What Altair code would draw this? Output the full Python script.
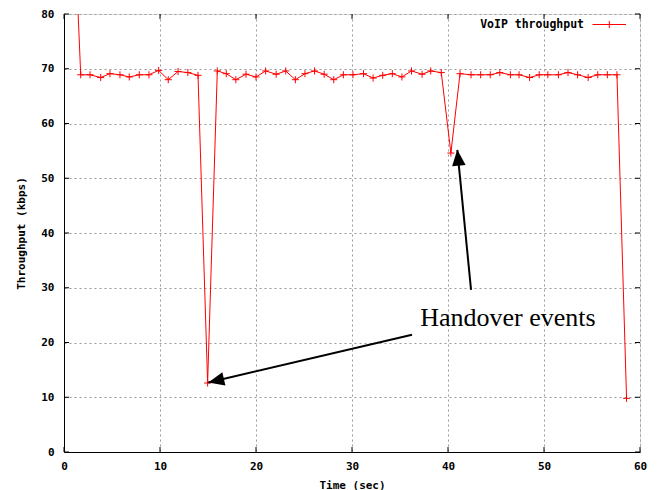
import altair as alt
import pandas as pd

# ---- data ----
time_s = [0.75, 1.74, 2.71, 3.82, 4.79, 5.83, 6.80, 7.84, 8.85, 9.86, 10.86, 11.88, 12.90, 13.96,
          14.96, 15.97, 16.9, 17.9, 18.96, 20.0, 21.0, 22.1, 23.1, 24.1, 25.1, 26.1, 27.1, 28.1,
          29.1, 30.1, 31.2, 32.2, 33.2, 34.2, 35.2, 36.2, 37.3, 38.2, 39.3, 40.3, 41.25, 42.4,
          43.4, 44.4, 45.4, 46.5, 47.4, 48.5, 49.5, 50.4, 51.5, 52.5, 53.5, 54.6, 55.6, 56.6,
          57.6, 58.6]
throughput = [110, 68.9, 68.9, 68.4, 69.1, 68.9, 68.5, 68.9, 68.9, 69.7, 68.0, 69.5, 69.3, 68.8,
              12.6, 69.6, 69.1, 68.0, 69.0, 68.5, 69.6, 69.0, 69.6, 68.0, 69.1, 69.6, 69.0, 68.0,
              68.9, 68.9, 69.1, 68.3, 68.8, 69.1, 68.5, 69.6, 69.0, 69.6, 69.3, 54.6, 69.1, 68.9,
              68.9, 68.9, 69.3, 68.9, 68.9, 68.4, 68.9, 68.9, 68.9, 69.3, 68.9, 68.4, 68.9, 68.9,
              68.9, 9.8]
x_ticks = [0, 10, 20, 30, 40, 50, 60]
y_ticks = [0, 10, 20, 30, 40, 50, 60, 70, 80]

arrow_from_x = [36.25, 42.4]
arrow_from_y = [21.4, 29.6]
arrow_tip_x = [15.03, 40.97]
arrow_tip_y = [12.7, 55.2]
arrow_angle = [256.9, 354.4]

annotation = "Handover events"
annotation_x = [37.1]
annotation_y = [23.0]
series_name = "VoIP throughput"

assert len(time_s) == len(throughput)

W, H = 576, 438
MONO = "DejaVu Sans Mono"
RED = "#ff0000"
PLUS = "M-1,0L1,0M0,-1L0,1"
HEAD = "M0,0L-0.85,2L0.85,2Z"

xs = alt.Scale(domain=[0, 60], nice=False, zero=False)
ys = alt.Scale(domain=[0, 80], nice=False, zero=False)
XT = "Time (sec)"
YT = "Throughput (kbps)"

df = pd.DataFrame({"t": time_s, "v": throughput})

x_axis = alt.Axis(values=x_ticks, grid=True, gridDash=[2, 3], gridColor="#999999", gridOpacity=1,
                  ticks=False, labelFont=MONO, labelFontWeight="bold", labelFontSize=11,
                  labelColor="black", labelPadding=8, titleFont=MONO, titleFontWeight="bold",
                  titleFontSize=11, titleColor="black", titlePadding=8, domainColor="black",
                  labelFlush=False, format="d")
y_axis = alt.Axis(values=y_ticks, grid=True, gridDash=[2, 3], gridColor="#999999", gridOpacity=1,
                  ticks=False, labelFont=MONO, labelFontWeight="bold", labelFontSize=11,
                  labelColor="black", labelPadding=10, titleFont=MONO, titleFontWeight="bold",
                  titleFontSize=11, titleColor="black", titlePadding=14, domainColor="black",
                  labelFlush=False, format="d")

line = alt.Chart(df).mark_line(color=RED, strokeWidth=1, clip=True).encode(
    x=alt.X("t:Q", scale=xs, axis=x_axis, title=XT),
    y=alt.Y("v:Q", scale=ys, axis=y_axis, title=YT),
)
pts = alt.Chart(df).mark_point(shape=PLUS, size=50, color=RED, filled=False, strokeWidth=1,
                               opacity=1, clip=True).encode(
    x=alt.X("t:Q", scale=xs, title=XT),
    y=alt.Y("v:Q", scale=ys, title=YT),
)

# inward ticks on all four sides
xt_df = pd.DataFrame({"xt": x_ticks})
yt_df = pd.DataFrame({"yt": y_ticks})
tick_len = 5
xt_bot = alt.Chart(xt_df).mark_rule(color="black", strokeWidth=1).encode(
    x=alt.X("xt:Q", scale=xs, title=XT), y=alt.value(H), y2=alt.value(H - tick_len))
xt_top = alt.Chart(xt_df).mark_rule(color="black", strokeWidth=1).encode(
    x=alt.X("xt:Q", scale=xs, title=XT), y=alt.value(0), y2=alt.value(tick_len))
yt_left = alt.Chart(yt_df).mark_rule(color="black", strokeWidth=1).encode(
    y=alt.Y("yt:Q", scale=ys, title=YT), x=alt.value(0), x2=alt.value(tick_len))
yt_right = alt.Chart(yt_df).mark_rule(color="black", strokeWidth=1).encode(
    y=alt.Y("yt:Q", scale=ys, title=YT), x=alt.value(W), x2=alt.value(W - tick_len))

# annotation arrows
adf = pd.DataFrame({"x1": arrow_from_x, "y1": arrow_from_y, "x2": arrow_tip_x,
                    "y2": arrow_tip_y, "ang": arrow_angle})
shafts = alt.Chart(adf).mark_rule(color="black", strokeWidth=2).encode(
    x=alt.X("x1:Q", scale=xs, title=XT), y=alt.Y("y1:Q", scale=ys, title=YT),
    x2="x2:Q", y2="y2:Q")
heads = alt.Chart(adf).mark_point(shape=HEAD, size=256, filled=True, color="black",
                                  opacity=1, strokeWidth=0).encode(
    x=alt.X("x2:Q", scale=xs, title=XT), y=alt.Y("y2:Q", scale=ys, title=YT),
    angle=alt.Angle("ang:Q", scale=None))

tdf = pd.DataFrame({"tx": annotation_x, "ty": annotation_y, "label": [annotation]})
label = alt.Chart(tdf).mark_text(font="Liberation Serif", fontSize=26, align="left",
                                 baseline="alphabetic", color="black").encode(
    x=alt.X("tx:Q", scale=xs, title=XT), y=alt.Y("ty:Q", scale=ys, title=YT), text="label:N")

# legend (inside, top-right)
ldf = pd.DataFrame({"name": [series_name]})
leg_text = alt.Chart(ldf).mark_text(font=MONO, fontWeight="bold", fontSize=11.5, align="right",
                                    baseline="middle", color="black").encode(
    x=alt.value(520), y=alt.value(10.5), text="name:N")
leg_line = alt.Chart(ldf).mark_rule(color=RED, strokeWidth=1).encode(
    x=alt.value(528.5), x2=alt.value(562), y=alt.value(10.5))
leg_pt = alt.Chart(ldf).mark_point(shape=PLUS, size=50, color=RED, filled=False,
                                   strokeWidth=1, opacity=1).encode(
    x=alt.value(545.3), y=alt.value(10.5))

chart = alt.layer(line, pts, xt_bot, xt_top, yt_left, yt_right, shafts, heads, label,
                  leg_text, leg_line, leg_pt).properties(
    width=W, height=H,
    padding={"left": 56, "top": 6, "right": 10, "bottom": 38},
    autosize=alt.AutoSizeParams(type="none"),
).configure_view(stroke="black", strokeWidth=1).configure(background="white")

chart.save("out.html", embed_options={"renderer": "svg", "actions": False})
